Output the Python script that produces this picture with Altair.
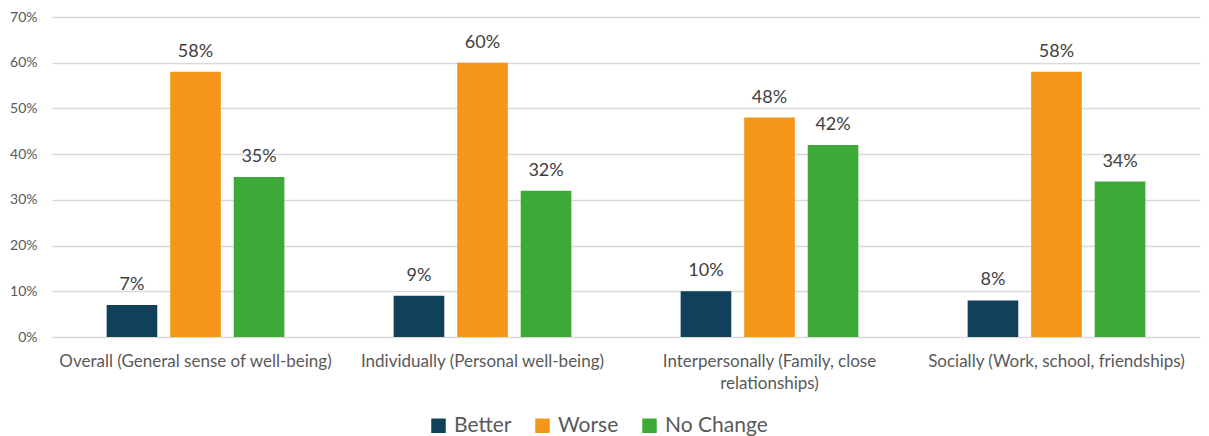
import altair as alt
import pandas as pd

categories = [
    "Overall (General sense of well-being)",
    "Individually (Personal well-being)",
    "Interpersonally (Family, close relationships)",
    "Socially (Work, school, friendships)",
]
series = ["Better", "Worse", "No Change"]
better = [7, 9, 10, 8]
worse = [58, 60, 48, 58]
no_change = [35, 32, 42, 34]
colors = ["#10405A", "#F4961A", "#3DAA38"]
y_ticks = [0, 10, 20, 30, 40, 50, 60, 70]

rows = []
for i, cat in enumerate(categories):
    for s, vals in zip(series, [better, worse, no_change]):
        rows.append({"category": cat, "series": s, "value": vals[i] / 100})
df = pd.DataFrame(rows)

FONT = "Lato"

x = alt.X(
    "category:N",
    sort=categories,
    title=None,
    scale=alt.Scale(paddingInner=0, paddingOuter=0),
    axis=alt.Axis(
        labelAngle=0,
        labelFontSize=17,
        labelColor="#595959",
        labelFont=FONT,
        labelPadding=16,
        labelLineHeight=22,
        domain=False,
        ticks=False,
        grid=False,
        labelLimit=400,
        labelExpr="datum.value == 'Interpersonally (Family, close relationships)' ? ['Interpersonally (Family, close', 'relationships)'] : datum.value",
    ),
)
x_off = alt.XOffset(
    "series:N",
    sort=series,
    scale=alt.Scale(paddingInner=0.203, paddingOuter=0.86),
)
y = alt.Y(
    "value:Q",
    title=None,
    scale=alt.Scale(domain=[0, 0.7], nice=False),
    axis=alt.Axis(
        values=[t / 100 for t in y_ticks],
        format=".0%",
        labelFontSize=14,
        labelColor="#595959",
        labelFont=FONT,
        labelPadding=15,
        domain=False,
        ticks=False,
        gridColor="#D9D9D9",
        gridWidth=1.5,
    ),
)

bars = alt.Chart(df).mark_bar().encode(
    x=x,
    xOffset=x_off,
    y=y,
    color=alt.Color(
        "series:N",
        sort=series,
        scale=alt.Scale(domain=series, range=colors),
        legend=alt.Legend(
            title=None,
            orient="none",
            direction="horizontal",
            legendX=376,
            legendY=398,
            symbolType="square",
            symbolSize=210,
            symbolStrokeWidth=0,
            labelFontSize=21,
            labelColor="#595959",
            labelFont=FONT,
            columnPadding=20,
            labelOffset=5,
        ),
    ),
)

labels = alt.Chart(df).mark_text(
    dy=-20, fontSize=18, color="#404040", font=FONT
).encode(
    x=x,
    xOffset=x_off,
    y=y,
    text=alt.Text("value:Q", format=".0%"),
)

chart = (
    alt.layer(bars, labels)
    .properties(
        width=1148,
        height=320,
        background="white",
        autosize=alt.AutoSizeParams(type="none"),
        padding={"left": 52, "top": 17, "right": 9, "bottom": 99},
    )
    .configure_view(strokeWidth=0, strokeOpacity=0)
)

chart.save("out.html", embed_options={"renderer": "svg", "actions": False})
